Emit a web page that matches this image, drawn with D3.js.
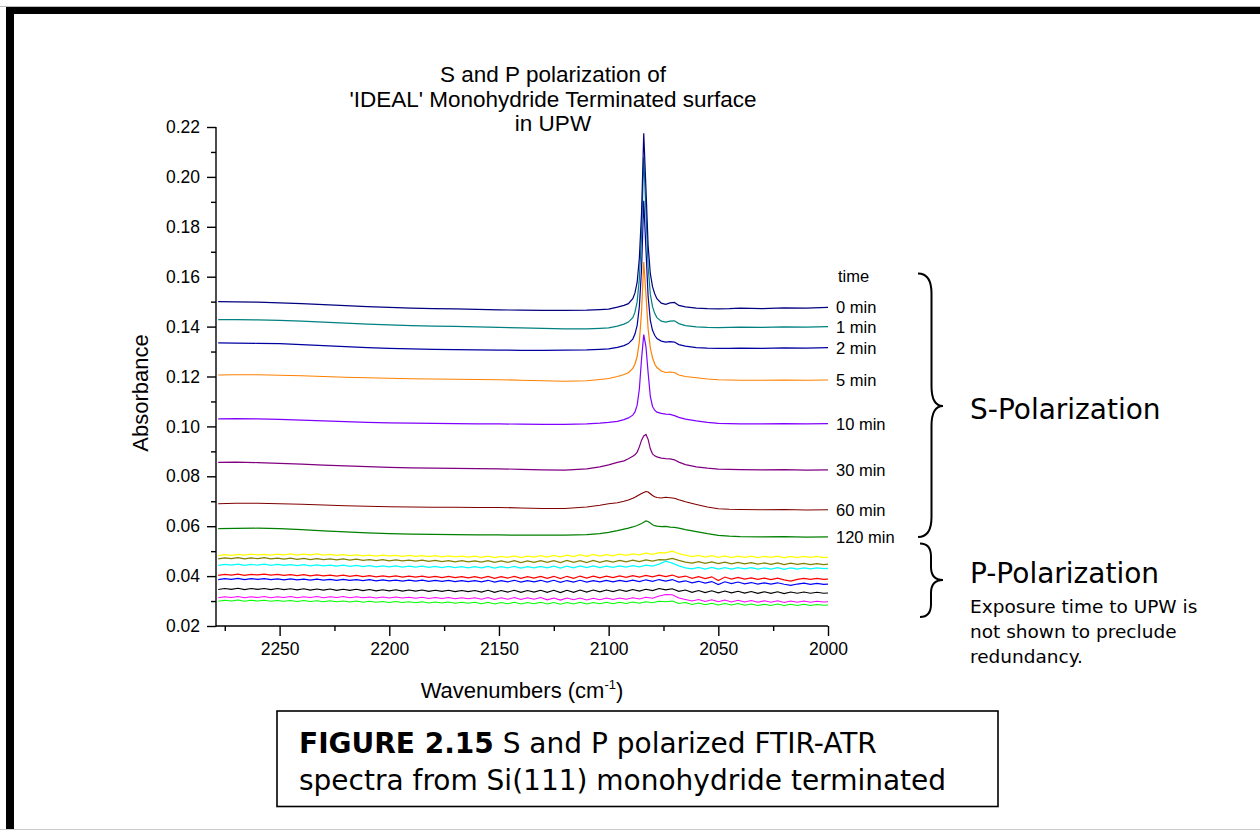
<!DOCTYPE html>
<html>
<head>
<meta charset="utf-8">
<script src="https://cdn.jsdelivr.net/npm/d3@7"></script>
<style>
  body { margin: 0; background: #fff; }
  svg { display: block; }
  text { font-family: Arial, 'Liberation Sans', sans-serif; fill: #000; }
  .note { font-family: 'DejaVu Sans', Verdana, sans-serif; }
</style>
</head>
<body>
<script>
// wavenumber grid for the S-polarized spectra (cm-1)
const sWave = [2278, 2270, 2260, 2250, 2240, 2230, 2220, 2210, 2200, 2190,
  2180, 2170, 2160, 2150, 2140, 2130, 2120, 2110, 2104, 2100,
  2096, 2093, 2091, 2089, 2088, 2087, 2086, 2085, 2084, 2083,
  2082, 2081, 2080, 2079, 2078, 2076, 2074, 2072, 2070, 2068,
  2065, 2060, 2055, 2050, 2045, 2040, 2030, 2020, 2010, 2000];

const s0min = [.1500,.1499,.1498,.1495,.1492,.1488,.1484,.1480,.1477,.1474,
  .1472,.1471,.1469,.1467,.1466,.1465,.1465,.1466,.1468,.1470,
  .1478,.1485,.1492,.1512,.1535,.1578,.1675,.1855,.2175,.1955,
  .1725,.1612,.1560,.1532,.1512,.1494,.1489,.1495,.1497,.1485,
  .1479,.1474,.1472,.1471,.1472,.1474,.1472,.1475,.1474,.1477];
const s1min = [.1428,.1428,.1427,.1425,.1422,.1418,.1414,.1410,.1407,.1404,
  .1402,.1401,.1399,.1397,.1395,.1393,.1391,.1391,.1393,.1395,
  .1402,.1410,.1418,.1436,.1458,.1500,.1592,.1765,.2079,.1860,
  .1640,.1530,.1480,.1453,.1436,.1422,.1418,.1422,.1423,.1412,
  .1404,.1399,.1397,.1396,.1397,.1398,.1397,.1399,.1398,.1400];
const s2min = [.1335,.1334,.1333,.1332,.1328,.1324,.1320,.1316,.1313,.1311,
  .1309,.1308,.1307,.1306,.1305,.1305,.1306,.1307,.1309,.1311,
  .1317,.1324,.1332,.1350,.1370,.1405,.1480,.1630,.1904,.1710,
  .1520,.1425,.1385,.1365,.1352,.1342,.1338,.1340,.1338,.1328,
  .1322,.1316,.1314,.1313,.1313,.1314,.1313,.1315,.1314,.1316];
const s5min = [.1206,.1207,.1207,.1205,.1203,.1200,.1197,.1195,.1193,.1191,
  .1190,.1189,.1188,.1187,.1185,.1183,.1181,.1183,.1188,.1192,
  .1200,.1208,.1215,.1232,.1250,.1280,.1340,.1460,.1659,.1530,
  .1390,.1315,.1275,.1250,.1236,.1222,.1216,.1218,.1216,.1206,
  .1200,.1195,.1190,.1187,.1186,.1185,.1185,.1186,.1185,.1186];
const s10min = [.1030,.1031,.1030,.1028,.1025,.1022,.1019,.1016,.1014,.1013,
  .1012,.1011,.1010,.1010,.1009,.1008,.1008,.1010,.1013,.1016,
  .1020,.1027,.1034,.1045,.1058,.1085,.1150,.1270,.1368,.1320,
  .1215,.1120,.1080,.1065,.1057,.1052,.1049,.1048,.1043,.1036,
  .1029,.1022,.1016,.1012,.1011,.1010,.1010,.1011,.1010,.1011];
const s30min = [.0856,.0857,.0855,.0852,.0849,.0845,.0842,.0839,.0836,.0834,
  .0833,.0832,.0831,.0830,.0828,.0826,.0825,.0830,.0838,.0846,
  .0856,.0862,.0870,.0880,.0886,.0897,.0918,.0945,.0962,.0968,
  .0948,.0910,.0890,.0882,.0878,.0873,.0871,.0870,.0866,.0857,
  .0847,.0838,.0833,.0829,.0828,.0827,.0826,.0827,.0825,.0826];
const s60min = [.0690,.0692,.0692,.0690,.0688,.0685,.0682,.0680,.0678,.0677,
  .0676,.0676,.0675,.0675,.0673,.0671,.0671,.0677,.0684,.0690,
  .0694,.0700,.0705,.0712,.0716,.0721,.0726,.0731,.0735,.0739,
  .0737,.0730,.0723,.0718,.0715,.0713,.0716,.0714,.0712,.0706,
  .0698,.0687,.0677,.0670,.0668,.0667,.0666,.0667,.0665,.0666];
const s120min = [.0590,.0591,.0592,.0590,.0586,.0581,.0577,.0573,.0570,.0568,
  .0567,.0566,.0565,.0565,.0564,.0564,.0564,.0566,.0570,.0575,
  .0582,.0588,.0592,.0597,.0600,.0603,.0607,.0611,.0616,.0621,
  .0619,.0613,.0606,.0602,.0600,.0598,.0599,.0596,.0595,.0592,
  .0586,.0578,.0570,.0563,.0560,.0558,.0557,.0558,.0556,.0557];

const sLabels = ['0 min', '1 min', '2 min', '5 min', '10 min', '30 min', '60 min', '120 min'];

// wavenumber grid for the P-polarized spectra (cm-1)
const pWave = [2278, 2275, 2272, 2269, 2266, 2263, 2260, 2257, 2254, 2251,
  2248, 2245, 2242, 2239, 2236, 2233, 2230, 2227, 2224, 2221,
  2218, 2215, 2212, 2209, 2206, 2203, 2200, 2197, 2194, 2191,
  2188, 2185, 2182, 2179, 2176, 2173, 2170, 2167, 2164, 2161,
  2158, 2155, 2152, 2149, 2146, 2143, 2140, 2137, 2134, 2131,
  2128, 2125, 2122, 2119, 2116, 2113, 2110, 2107, 2104, 2101,
  2098, 2095, 2092, 2089, 2086, 2083, 2080, 2077, 2074, 2071,
  2068, 2065, 2062, 2059, 2056, 2053, 2050, 2047, 2044, 2041,
  2038, 2035, 2032, 2029, 2026, 2023, 2020, 2017, 2014, 2011,
  2008, 2005, 2002, 2000];

const pYellow = [.0482,.0486,.0483,.0487,.0484,.0488,.0485,.0487,.0484,.0488,
  .0485,.0489,.0484,.0488,.0485,.0489,.0484,.0487,.0483,.0486,
  .0482,.0485,.0481,.0484,.0480,.0484,.0481,.0483,.0479,.0483,
  .0479,.0482,.0478,.0482,.0477,.0481,.0477,.0480,.0476,.0480,
  .0475,.0480,.0474,.0479,.0475,.0481,.0474,.0480,.0476,.0482,
  .0476,.0483,.0477,.0484,.0478,.0486,.0479,.0487,.0480,.0486,
  .0481,.0488,.0483,.0489,.0485,.0492,.0487,.0494,.0493,.0500,
  .0490,.0484,.0478,.0483,.0476,.0482,.0475,.0481,.0474,.0480,
  .0475,.0480,.0474,.0479,.0475,.0480,.0473,.0479,.0474,.0479,
  .0475,.0479,.0474,.0476];
const pOlive = [.0469,.0473,.0470,.0474,.0469,.0473,.0470,.0474,.0469,.0472,
  .0468,.0472,.0467,.0471,.0466,.0470,.0466,.0469,.0465,.0469,
  .0464,.0468,.0463,.0466,.0462,.0466,.0461,.0465,.0461,.0464,
  .0460,.0464,.0459,.0463,.0458,.0462,.0457,.0462,.0457,.0461,
  .0456,.0462,.0455,.0461,.0455,.0462,.0454,.0461,.0455,.0462,
  .0455,.0462,.0454,.0463,.0455,.0462,.0454,.0463,.0455,.0462,
  .0456,.0463,.0457,.0464,.0458,.0465,.0460,.0466,.0465,.0471,
  .0463,.0456,.0452,.0458,.0451,.0457,.0450,.0456,.0449,.0455,
  .0449,.0454,.0448,.0453,.0447,.0453,.0446,.0452,.0447,.0451,
  .0446,.0450,.0446,.0448];
const pCyan = [.0443,.0447,.0444,.0448,.0443,.0447,.0444,.0448,.0443,.0447,
  .0443,.0446,.0442,.0446,.0441,.0445,.0441,.0444,.0440,.0444,
  .0439,.0443,.0438,.0442,.0437,.0441,.0437,.0441,.0436,.0440,
  .0436,.0440,.0435,.0439,.0434,.0439,.0434,.0438,.0433,.0438,
  .0433,.0439,.0432,.0438,.0433,.0439,.0432,.0438,.0433,.0439,
  .0433,.0440,.0432,.0440,.0433,.0441,.0434,.0441,.0434,.0440,
  .0435,.0441,.0436,.0442,.0437,.0444,.0440,.0448,.0460,.0452,
  .0441,.0433,.0429,.0435,.0428,.0435,.0428,.0434,.0428,.0434,
  .0429,.0434,.0428,.0433,.0428,.0434,.0427,.0433,.0428,.0433,
  .0429,.0433,.0430,.0431];
const pRed = [.0403,.0407,.0404,.0408,.0403,.0407,.0405,.0408,.0404,.0407,
  .0403,.0406,.0402,.0406,.0401,.0405,.0401,.0404,.0400,.0404,
  .0399,.0403,.0398,.0402,.0397,.0401,.0397,.0401,.0396,.0400,
  .0396,.0400,.0395,.0399,.0394,.0399,.0394,.0398,.0393,.0398,
  .0392,.0399,.0391,.0398,.0392,.0399,.0391,.0398,.0392,.0399,
  .0391,.0399,.0390,.0399,.0391,.0400,.0392,.0400,.0393,.0400,
  .0394,.0401,.0395,.0402,.0396,.0403,.0397,.0404,.0398,.0404,
  .0395,.0400,.0391,.0398,.0390,.0397,.0382,.0396,.0388,.0395,
  .0388,.0393,.0387,.0392,.0386,.0392,.0385,.0380,.0387,.0391,
  .0387,.0391,.0387,.0388];
const pBlue = [.0386,.0390,.0387,.0391,.0386,.0390,.0387,.0390,.0386,.0389,
  .0385,.0389,.0385,.0388,.0384,.0388,.0384,.0387,.0383,.0387,
  .0383,.0386,.0382,.0386,.0381,.0385,.0381,.0384,.0380,.0384,
  .0380,.0384,.0379,.0383,.0379,.0383,.0378,.0382,.0378,.0382,
  .0377,.0383,.0376,.0382,.0377,.0383,.0376,.0382,.0377,.0383,
  .0376,.0383,.0375,.0382,.0376,.0383,.0376,.0382,.0377,.0383,
  .0377,.0383,.0378,.0384,.0378,.0385,.0379,.0386,.0380,.0386,
  .0376,.0381,.0373,.0379,.0372,.0378,.0366,.0377,.0370,.0376,
  .0369,.0374,.0368,.0373,.0368,.0373,.0367,.0363,.0368,.0372,
  .0367,.0371,.0367,.0368];
const pBlack = [.0346,.0350,.0347,.0351,.0346,.0350,.0347,.0350,.0346,.0350,
  .0346,.0349,.0345,.0349,.0344,.0348,.0344,.0348,.0343,.0347,
  .0343,.0347,.0342,.0346,.0341,.0345,.0341,.0345,.0340,.0344,
  .0340,.0344,.0339,.0343,.0339,.0343,.0338,.0342,.0338,.0342,
  .0336,.0343,.0335,.0342,.0336,.0343,.0335,.0342,.0336,.0343,
  .0335,.0343,.0334,.0343,.0335,.0344,.0336,.0344,.0337,.0344,
  .0338,.0345,.0339,.0346,.0340,.0347,.0342,.0350,.0345,.0349,
  .0339,.0344,.0335,.0342,.0334,.0341,.0333,.0340,.0333,.0339,
  .0332,.0338,.0331,.0337,.0331,.0337,.0330,.0336,.0331,.0336,
  .0331,.0335,.0331,.0332];
const pMagenta = [.0313,.0317,.0314,.0318,.0313,.0317,.0314,.0318,.0313,.0317,
  .0314,.0318,.0313,.0317,.0314,.0318,.0313,.0317,.0314,.0318,
  .0313,.0317,.0313,.0316,.0312,.0316,.0312,.0316,.0312,.0315,
  .0311,.0315,.0310,.0314,.0310,.0314,.0309,.0313,.0309,.0313,
  .0307,.0314,.0306,.0313,.0307,.0314,.0306,.0313,.0307,.0314,
  .0305,.0312,.0304,.0312,.0305,.0312,.0304,.0311,.0305,.0312,
  .0306,.0312,.0307,.0313,.0308,.0315,.0311,.0320,.0326,.0325,
  .0312,.0306,.0300,.0306,.0298,.0305,.0297,.0304,.0296,.0303,
  .0296,.0302,.0295,.0301,.0295,.0301,.0294,.0300,.0295,.0300,
  .0295,.0299,.0296,.0297];
const pGreen = [.0299,.0303,.0300,.0304,.0299,.0303,.0300,.0303,.0299,.0302,
  .0299,.0302,.0298,.0302,.0298,.0301,.0297,.0301,.0297,.0300,
  .0296,.0300,.0295,.0299,.0295,.0298,.0294,.0298,.0294,.0297,
  .0293,.0297,.0292,.0296,.0292,.0296,.0291,.0295,.0291,.0295,
  .0289,.0295,.0288,.0294,.0289,.0295,.0288,.0294,.0289,.0295,
  .0288,.0294,.0287,.0294,.0288,.0295,.0288,.0294,.0289,.0295,
  .0289,.0295,.0290,.0296,.0291,.0297,.0293,.0299,.0297,.0300,
  .0290,.0294,.0286,.0292,.0285,.0291,.0284,.0290,.0284,.0290,
  .0283,.0288,.0282,.0287,.0282,.0288,.0282,.0287,.0282,.0287,
  .0282,.0286,.0283,.0284];

const xTicks = [2250, 2200, 2150, 2100, 2050, 2000];
const xMinorTicks = [2275, 2225, 2175, 2125, 2075, 2025];
const yTicks = [0.02, 0.04, 0.06, 0.08, 0.10, 0.12, 0.14, 0.16, 0.18, 0.20, 0.22];
const yMinorTicks = [0.03, 0.05, 0.07, 0.09, 0.11, 0.13, 0.15, 0.17, 0.19, 0.21];

const sColors = ['#000080', '#008080', '#0000a0', '#ff8000', '#8000ff', '#800080', '#800000', '#008000'];
const pColors = ['#ffff00', '#808000', '#00ffff', '#ff0000', '#0000ff', '#000000', '#ff00ff', '#00ff00'];

const sSeries = [s0min, s1min, s2min, s5min, s10min, s30min, s60min, s120min]
  .map((v, i) => ({ label: sLabels[i], color: sColors[i], points: sWave.map((w, j) => [w, v[j]]) }));
const pSeries = [pYellow, pOlive, pCyan, pRed, pBlue, pBlack, pMagenta, pGreen]
  .map((v, i) => ({ color: pColors[i], points: pWave.map((w, j) => [w, v[j]]) }));

const width = 1260, height = 831;
const svg = d3.select('body').append('svg')
  .attr('width', width)
  .attr('height', height);

// page frame
svg.append('line').attr('x1', 0).attr('x2', width).attr('y1', 6.5).attr('y2', 6.5)
  .attr('stroke', '#bbb').attr('stroke-width', 1);
svg.append('line').attr('x1', 0).attr('x2', width).attr('y1', 829.5).attr('y2', 829.5)
  .attr('stroke', '#ccc').attr('stroke-width', 1);
svg.append('rect').attr('x', 6).attr('y', 7).attr('width', width - 6).attr('height', 7).attr('fill', '#000');
svg.append('rect').attr('x', 6).attr('y', 7).attr('width', 8).attr('height', 822).attr('fill', '#000');

const x = d3.scaleLinear().domain([2279, 2000]).range([216, 828]);
const y = d3.scaleLinear().domain([0.02, 0.22]).range([626, 127]);

const g = svg.append('g');

// spectra
const line = d3.line().x(d => x(d[0])).y(d => y(d[1]));

g.selectAll('path.p')
  .data(pSeries)
  .enter().append('path')
  .attr('class', 'p')
  .attr('d', d => line(d.points))
  .attr('fill', 'none')
  .attr('stroke', d => d.color)
  .attr('stroke-width', 1.1);

g.selectAll('path.s')
  .data(sSeries.slice().reverse())
  .enter().append('path')
  .attr('class', 's')
  .attr('d', d => line(d.points))
  .attr('fill', 'none')
  .attr('stroke', d => d.color)
  .attr('stroke-width', 1.2);

// axes
const axisFont = 17.5;
const yAxis = g.append('g').attr('transform', 'translate(216,0)')
  .call(d3.axisLeft(y).tickValues(yTicks).tickFormat(d3.format('.2f')).tickSize(9).tickSizeOuter(0).tickPadding(7));
g.append('g').attr('transform', 'translate(216,0)')
  .call(d3.axisLeft(y).tickValues(yMinorTicks).tickFormat('').tickSize(5).tickSizeOuter(0))
  .select('.domain').remove();

const xAxis = g.append('g').attr('transform', 'translate(0,626)')
  .call(d3.axisBottom(x).tickValues(xTicks).tickFormat(d3.format('d')).tickSize(10).tickSizeOuter(0).tickPadding(7));
g.append('g').attr('transform', 'translate(0,626)')
  .call(d3.axisBottom(x).tickValues(xMinorTicks).tickFormat('').tickSize(5).tickSizeOuter(0))
  .select('.domain').remove();

g.selectAll('.tick line, .domain').attr('stroke', '#000').attr('stroke-width', 1.4);
yAxis.selectAll('.tick text, text').style('font-family', 'Arial, "Liberation Sans", sans-serif').attr('font-size', axisFont).attr('fill', '#000');
xAxis.selectAll('.tick text').style('font-family', 'Arial, "Liberation Sans", sans-serif').attr('font-size', axisFont).attr('fill', '#000');
// axis domain spans the full plot edges
yAxis.select('.domain').attr('d', `M0,${y(0.02) + 0.7}V${y(0.22)}`);
xAxis.select('.domain').attr('d', `M216,0H${x(2000)}`);

// title
const title = ['S and P polarization of', "'IDEAL' Monohydride Terminated surface", 'in UPW'];
svg.append('g').selectAll('text')
  .data(title)
  .enter().append('text')
  .attr('x', 553)
  .attr('y', (d, i) => 82 + i * 24.5)
  .attr('text-anchor', 'middle')
  .attr('font-size', 22.5)
  .text(d => d);

// axis titles
svg.append('text')
  .attr('transform', 'translate(148,393) rotate(-90)')
  .attr('text-anchor', 'middle')
  .attr('font-size', 22)
  .text('Absorbance');

const xt = svg.append('text')
  .attr('x', 522)
  .attr('y', 698)
  .attr('text-anchor', 'middle')
  .attr('font-size', 22);
xt.append('tspan').text('Wavenumbers (cm');
xt.append('tspan').attr('font-size', 13).attr('dy', -9).text('-1');
xt.append('tspan').attr('dy', 9).text(')');

// series labels at the right end of each S-polarized spectrum
svg.append('text').attr('x', 838).attr('y', 282).attr('font-size', 16.5).text('time');
svg.append('g').selectAll('text')
  .data(sSeries)
  .enter().append('text')
  .attr('x', 836)
  .attr('y', d => y(d.points[d.points.length - 1][1]) + 6)
  .attr('font-size', 16.5)
  .text(d => d.label);

// curly braces grouping the two polarizations
function brace(x0, xv, xt, top, tip, bottom, r) {
  return `M${x0},${top}Q${xv},${top} ${xv},${top + r}L${xv},${tip - r}Q${xv},${tip} ${xt},${tip}` +
    `Q${xv},${tip} ${xv},${tip + r}L${xv},${bottom - r}Q${xv},${bottom} ${x0},${bottom}`;
}
svg.append('path').attr('d', brace(918, 931.5, 943, 273.5, 406, 537, 20))
  .attr('fill', 'none').attr('stroke', '#000').attr('stroke-width', 2);
svg.append('path').attr('d', brace(920, 931, 943, 543.5, 580, 617, 13))
  .attr('fill', 'none').attr('stroke', '#000').attr('stroke-width', 2);

svg.append('text').attr('class', 'note').attr('x', 970).attr('y', 419).attr('font-size', 28).text('S-Polarization');
svg.append('text').attr('class', 'note').attr('x', 970).attr('y', 583).attr('font-size', 28).text('P-Polarization');
const noteLines = ['Exposure time to UPW is', 'not shown to preclude', 'redundancy.'];
svg.append('g').selectAll('text')
  .data(noteLines)
  .enter().append('text')
  .attr('class', 'note')
  .attr('x', 970)
  .attr('y', (d, i) => 613 + i * 25)
  .attr('font-size', 18.5)
  .text(d => d);

// figure caption box
svg.append('rect')
  .attr('x', 277).attr('y', 711).attr('width', 721).attr('height', 95.5)
  .attr('fill', 'none').attr('stroke', '#000').attr('stroke-width', 1.6);
const cap1 = svg.append('text').attr('class', 'note').attr('x', 299).attr('y', 753).attr('font-size', 28);
cap1.append('tspan').attr('font-weight', 'bold').text('FIGURE 2.15');
cap1.append('tspan').text(' S and P polarized FTIR-ATR');
svg.append('text').attr('class', 'note').attr('x', 299).attr('y', 790).attr('font-size', 28)
  .text('spectra from Si(111) monohydride terminated');
</script>
</body>
</html>
